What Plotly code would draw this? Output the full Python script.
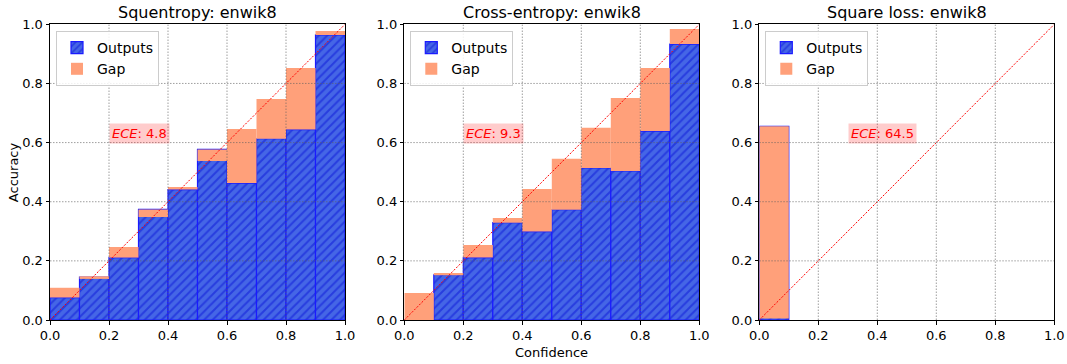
import plotly.graph_objects as go

# Reliability diagrams (10 confidence bins) for three training losses on enwik8
bin_centers = [0.05, 0.15, 0.25, 0.35, 0.45, 0.55, 0.65, 0.75, 0.85, 0.95]
bin_width = 0.1
ticks = [0.0, 0.2, 0.4, 0.6, 0.8, 1.0]

titles = ["Squentropy: enwik8", "Cross-entropy: enwik8", "Square loss: enwik8"]
ece_labels = ["4.8", "9.3", "64.5"]
ece_x = [0.2, 0.2, 0.3]
ece_y = 0.632

# per-bin accuracy and mean confidence
acc_sq = [0.076, 0.145, 0.211, 0.374, 0.441, 0.577, 0.463, 0.613, 0.644, 0.964]
conf_sq = [0.109, 0.139, 0.247, 0.348, 0.450, 0.538, 0.646, 0.747, 0.852, 0.977]

acc_ce = [0.0, 0.153, 0.211, 0.329, 0.299, 0.373, 0.514, 0.504, 0.639, 0.933]
conf_ce = [0.091, 0.159, 0.254, 0.345, 0.443, 0.545, 0.650, 0.751, 0.852, 0.984]

acc_ms = [0.655, 0, 0, 0, 0, 0, 0, 0, 0, 0]
conf_ms = [0.005, 0, 0, 0, 0, 0, 0, 0, 0, 0]

diag = [0.0, 1.0]

panels = [(acc_sq, conf_sq), (acc_ce, conf_ce), (acc_ms, conf_ms)]

W, H = 1067, 364
x_px = [(50, 345), (404.3, 699.3), (759.3, 1054.3)]
y_px = (24.3, 320)
y_dom = [1 - y_px[1] / H, 1 - y_px[0] / H]

OUT_FILL = "#4566e6"
OUT_HATCH = "#0a14d8"
OUT_EDGE = "#1a1aff"
GAP_FILL = "#ffa07a"
FONT = "DejaVu Sans"
GRID = "rgba(95,95,95,0.6)"

fig = go.Figure()
layout = dict(
    width=W, height=H,
    margin=dict(l=0, r=0, t=0, b=0, autoexpand=False),
    paper_bgcolor="white", plot_bgcolor="white",
    barmode="overlay",
    font=dict(family=FONT, size=13, color="black"),
    showlegend=True,
)
annotations = []
shapes = []

for i, (acc, conf) in enumerate(panels):
    sfx = "" if i == 0 else str(i + 1)
    xa, ya = "x" + sfx, "y" + sfx
    leg = "legend" + sfx
    n = len(acc)
    used = [k for k in range(n) if acc[k] != 0 or conf[k] != 0]
    xs = [bin_centers[k] for k in used]
    a = [acc[k] for k in used]
    g = [conf[k] - acc[k] for k in used]

    fig.add_trace(go.Bar(
        x=xs, y=a, width=bin_width, name="Outputs",
        xaxis=xa, yaxis=ya, legend=leg,
        marker=dict(color=OUT_FILL,
                    line=dict(color=OUT_EDGE, width=1.2),
                    pattern=dict(shape="/", fillmode="overlay", fgcolor=OUT_HATCH,
                                 size=6, solidity=0.35)),
        hoverinfo="skip",
    ))
    fig.add_trace(go.Bar(
        x=xs, y=g, base=a, width=bin_width, name="Gap",
        xaxis=xa, yaxis=ya, legend=leg,
        marker=dict(color=GAP_FILL, line=dict(width=0)),
        hoverinfo="skip",
    ))
    fig.add_trace(go.Scatter(
        x=diag, y=diag, mode="lines", showlegend=False,
        xaxis=xa, yaxis=ya,
        line=dict(color="red", width=1, dash="2px,1.5px"),
        hoverinfo="skip",
    ))

    x_dom = [x_px[i][0] / W, x_px[i][1] / W]
    axis_common = dict(
        range=[0, 1], tickvals=ticks, tickformat=".1f",
        showgrid=False, zeroline=False, automargin=False,
        showline=True, linecolor="black", linewidth=1, mirror=True,
        ticks="outside", ticklen=3.5, tickcolor="black", tickwidth=1,
        tickfont=dict(family=FONT, size=13, color="black"),
        fixedrange=True,
    )
    layout["xaxis" + sfx] = dict(axis_common, domain=x_dom, anchor=ya)
    layout["yaxis" + sfx] = dict(axis_common, domain=y_dom, anchor=xa)

    layout[leg] = dict(
        x=(x_px[i][0] + 6) / W, y=1 - 31 / H, xanchor="left", yanchor="top",
        xref="paper", yref="paper",
        bgcolor="rgba(255,255,255,0.85)", bordercolor="#cccccc", borderwidth=1,
        font=dict(family=FONT, size=14, color="black"),
        tracegroupgap=0, itemwidth=30,
    )

    # subplot title
    annotations.append(dict(
        text=titles[i], x=(x_dom[0] + x_dom[1]) / 2, y=1 - 13 / H,
        xref="paper", yref="paper", xanchor="center", yanchor="middle",
        showarrow=False, font=dict(family=FONT, size=16, color="black"),
    ))
    # expected calibration error label
    annotations.append(dict(
        text="<i>ECE</i>: " + ece_labels[i], x=ece_x[i], y=ece_y,
        xref=xa, yref=ya, xanchor="left", yanchor="middle",
        showarrow=False, font=dict(family=FONT, size=13, color="red"),
        bgcolor="rgba(255,0,0,0.2)", borderpad=2,
    ))

    # dotted grid drawn over the bars
    for t in ticks[1:-1]:
        shapes.append(dict(type="line", xref=xa, yref=ya, x0=t, x1=t, y0=0, y1=1,
                           layer="above",
                           line=dict(color=GRID, width=1, dash="1.5px,1.5px")))
        shapes.append(dict(type="line", xref=xa, yref=ya, x0=0, x1=1, y0=t, y1=t,
                           layer="above",
                           line=dict(color=GRID, width=1, dash="1.5px,1.5px")))

# shared axis labels
annotations.append(dict(
    text="Accuracy", x=13 / W, y=(y_dom[0] + y_dom[1]) / 2,
    xref="paper", yref="paper", xanchor="center", yanchor="middle",
    textangle=-90, showarrow=False, font=dict(family=FONT, size=13, color="black"),
))
annotations.append(dict(
    text="Confidence", x=(x_px[1][0] + x_px[1][1]) / 2 / W, y=1 - 352 / H,
    xref="paper", yref="paper", xanchor="center", yanchor="middle",
    showarrow=False, font=dict(family=FONT, size=13, color="black"),
))

layout["annotations"] = annotations
layout["shapes"] = shapes
fig.update_layout(**layout)

fig.write_html("out.html")
